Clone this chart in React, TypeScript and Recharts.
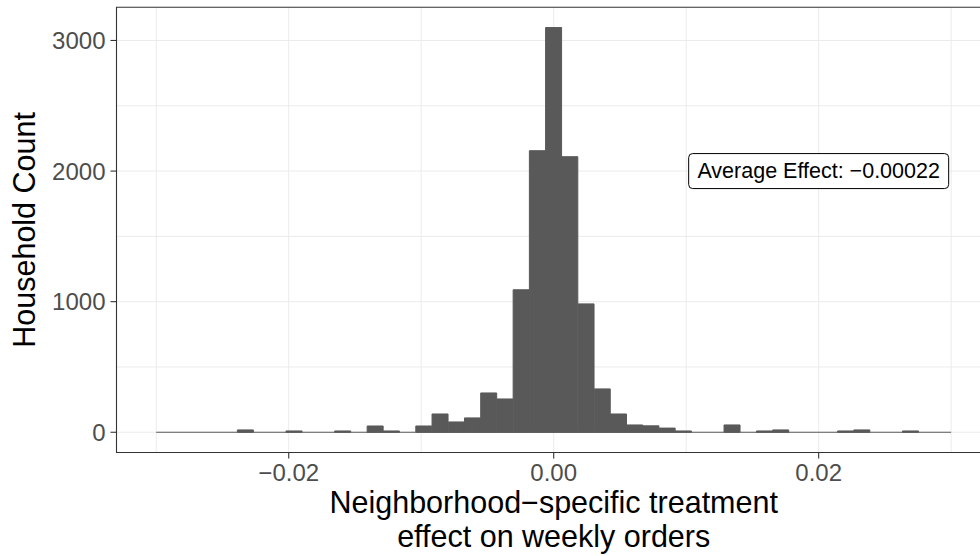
import React from "react";
import {
  BarChart,
  Bar,
  XAxis,
  YAxis,
  CartesianGrid,
  ReferenceLine,
  ReferenceArea,
  ReferenceDot,
  Label,
} from "recharts";

// histogram bins (centres), 49 bins between -0.03 and 0.03
const binCenters = [
  -0.029388, -0.028163, -0.026939, -0.025714, -0.02449, -0.023265, -0.022041,
  -0.020816, -0.019592, -0.018367, -0.017143, -0.015918, -0.014694, -0.013469,
  -0.012245, -0.01102, -0.009796, -0.008571, -0.007347, -0.006122, -0.004898,
  -0.003673, -0.002449, -0.001224, 0, 0.001224, 0.002449, 0.003673, 0.004898,
  0.006122, 0.007347, 0.008571, 0.009796, 0.01102, 0.012245, 0.013469,
  0.014694, 0.015918, 0.017143, 0.018367, 0.019592, 0.020816, 0.022041,
  0.023265, 0.02449, 0.025714, 0.026939, 0.028163, 0.029388,
];

const householdCounts = [
  0, 0, 0, 0, 0, 18, 0, 0, 10, 0, 0, 10, 0, 48, 10, 0, 48, 140, 79, 110, 301,
  255, 1091, 2156, 3099, 2110, 983, 332, 140, 56, 49, 32, 10, 0, 0, 56, 0, 10,
  18, 0, 0, 0, 10, 18, 0, 0, 10, 0, 0,
];

const xTicks = [-0.02, 0, 0.02];
const yTicks = [0, 1000, 2000, 3000];
const xGridValues = [-0.03, -0.02, -0.01, 0, 0.01, 0.02, 0.03];
const yGridValues = [0, 500, 1000, 1500, 2000, 2500, 3000];

const xDomain = [-0.033, 0.033];
const yDomain = [-155, 3254];
const binRange = [-0.03, 0.03];

const averageEffectLabel = "Average Effect: −0.00022";
const averageEffectPos = { x: 0.02, y: 2000 };

const xTitle = ["Neighborhood−specific treatment", "effect on weekly orders"];
const yTitle = "Household Count";

const data = binCenters.map((x, i) => ({ x, count: householdCounts[i] }));

const FONT = '"Liberation Sans", Arial, Helvetica, sans-serif';
const TITLE_SIZE = 30.5;

const fmtX = (v: number) =>
  v === 0 ? "0.00" : (v < 0 ? "−" : "") + Math.abs(v).toFixed(2);

const AnnotationBox = ({ cx, cy }: any) => {
  if (cx == null || cy == null) return null;
  return (
    <g>
      <rect
        x={cx - 130}
        y={cy - 17.5}
        width={260}
        height={35}
        rx={4}
        ry={4}
        fill="#fff"
        stroke="#000"
        strokeWidth={1}
      />
      <text
        x={cx}
        y={cy + 6.5}
        textAnchor="middle"
        fontSize={21.5}
        fill="#000"
        fontFamily={FONT}
      >
        {averageEffectLabel}
      </text>
    </g>
  );
};

const XTitle = ({ viewBox }: any) => {
  const cx = viewBox.x + viewBox.width / 2;
  return (
    <text textAnchor="middle" fontSize={TITLE_SIZE} fill="#000" fontFamily={FONT}>
      <tspan x={cx} y={viewBox.y + 60}>
        {xTitle[0]}
      </tspan>
      <tspan x={cx} y={viewBox.y + 94.5}>
        {xTitle[1]}
      </tspan>
    </text>
  );
};

const YTitle = ({ viewBox }: any) => {
  const cy = viewBox.y + viewBox.height / 2;
  const x = 35;
  return (
    <text
      x={x}
      y={cy}
      textAnchor="middle"
      fontSize={TITLE_SIZE}
      fill="#000"
      fontFamily={FONT}
      transform={`rotate(-90, ${x}, ${cy})`}
    >
      {yTitle}
    </text>
  );
};

export default function App() {
  return (
    <div
      style={{
        position: "absolute",
        left: 0,
        top: 0,
        width: 980,
        height: 556,
        background: "#fff",
        fontFamily: FONT,
        overflow: "hidden",
      }}
    >
      <BarChart
        width={980}
        height={556}
        data={data}
        margin={{ top: 7.3, right: -10.9, bottom: 0, left: 0 }}
        barCategoryGap={0}
        barGap={0}
      >
        <CartesianGrid
          stroke="#EBEBEB"
          strokeWidth={1}
          horizontalValues={yGridValues}
          verticalValues={xGridValues}
        />
        <XAxis
          dataKey="x"
          type="number"
          domain={xDomain}
          ticks={xTicks}
          allowDataOverflow
          height={103.5}
          axisLine={false}
          tickLine={{ stroke: "#333333", strokeWidth: 1.1 }}
          tickSize={6}
          tickMargin={5}
          tick={{ fill: "#4D4D4D", fontSize: 24 }}
          tickFormatter={fmtX}
        >
          <Label content={XTitle} />
        </XAxis>
        <YAxis
          type="number"
          domain={yDomain}
          ticks={yTicks}
          allowDataOverflow
          width={116.5}
          axisLine={false}
          tickLine={{ stroke: "#333333", strokeWidth: 1.1 }}
          tickSize={6}
          tickMargin={5}
          tick={{ fill: "#4D4D4D", fontSize: 24 }}
        >
          <Label content={YTitle} />
        </YAxis>
        <Bar
          dataKey="count"
          fill="#595959"
          stroke="#595959"
          strokeWidth={1}
          isAnimationActive={false}
        />
        <ReferenceLine
          segment={[
            { x: binRange[0], y: 0 },
            { x: binRange[1], y: 0 },
          ]}
          stroke="#595959"
          strokeWidth={1}
        />
        <ReferenceArea
          x1={xDomain[0]}
          x2={xDomain[1]}
          y1={yDomain[0]}
          y2={yDomain[1]}
          fill="none"
          stroke="#333333"
          strokeWidth={1.1}
          ifOverflow="visible"
        />
        <ReferenceDot
          x={averageEffectPos.x}
          y={averageEffectPos.y}
          shape={AnnotationBox}
          ifOverflow="visible"
        />
      </BarChart>
    </div>
  );
}
